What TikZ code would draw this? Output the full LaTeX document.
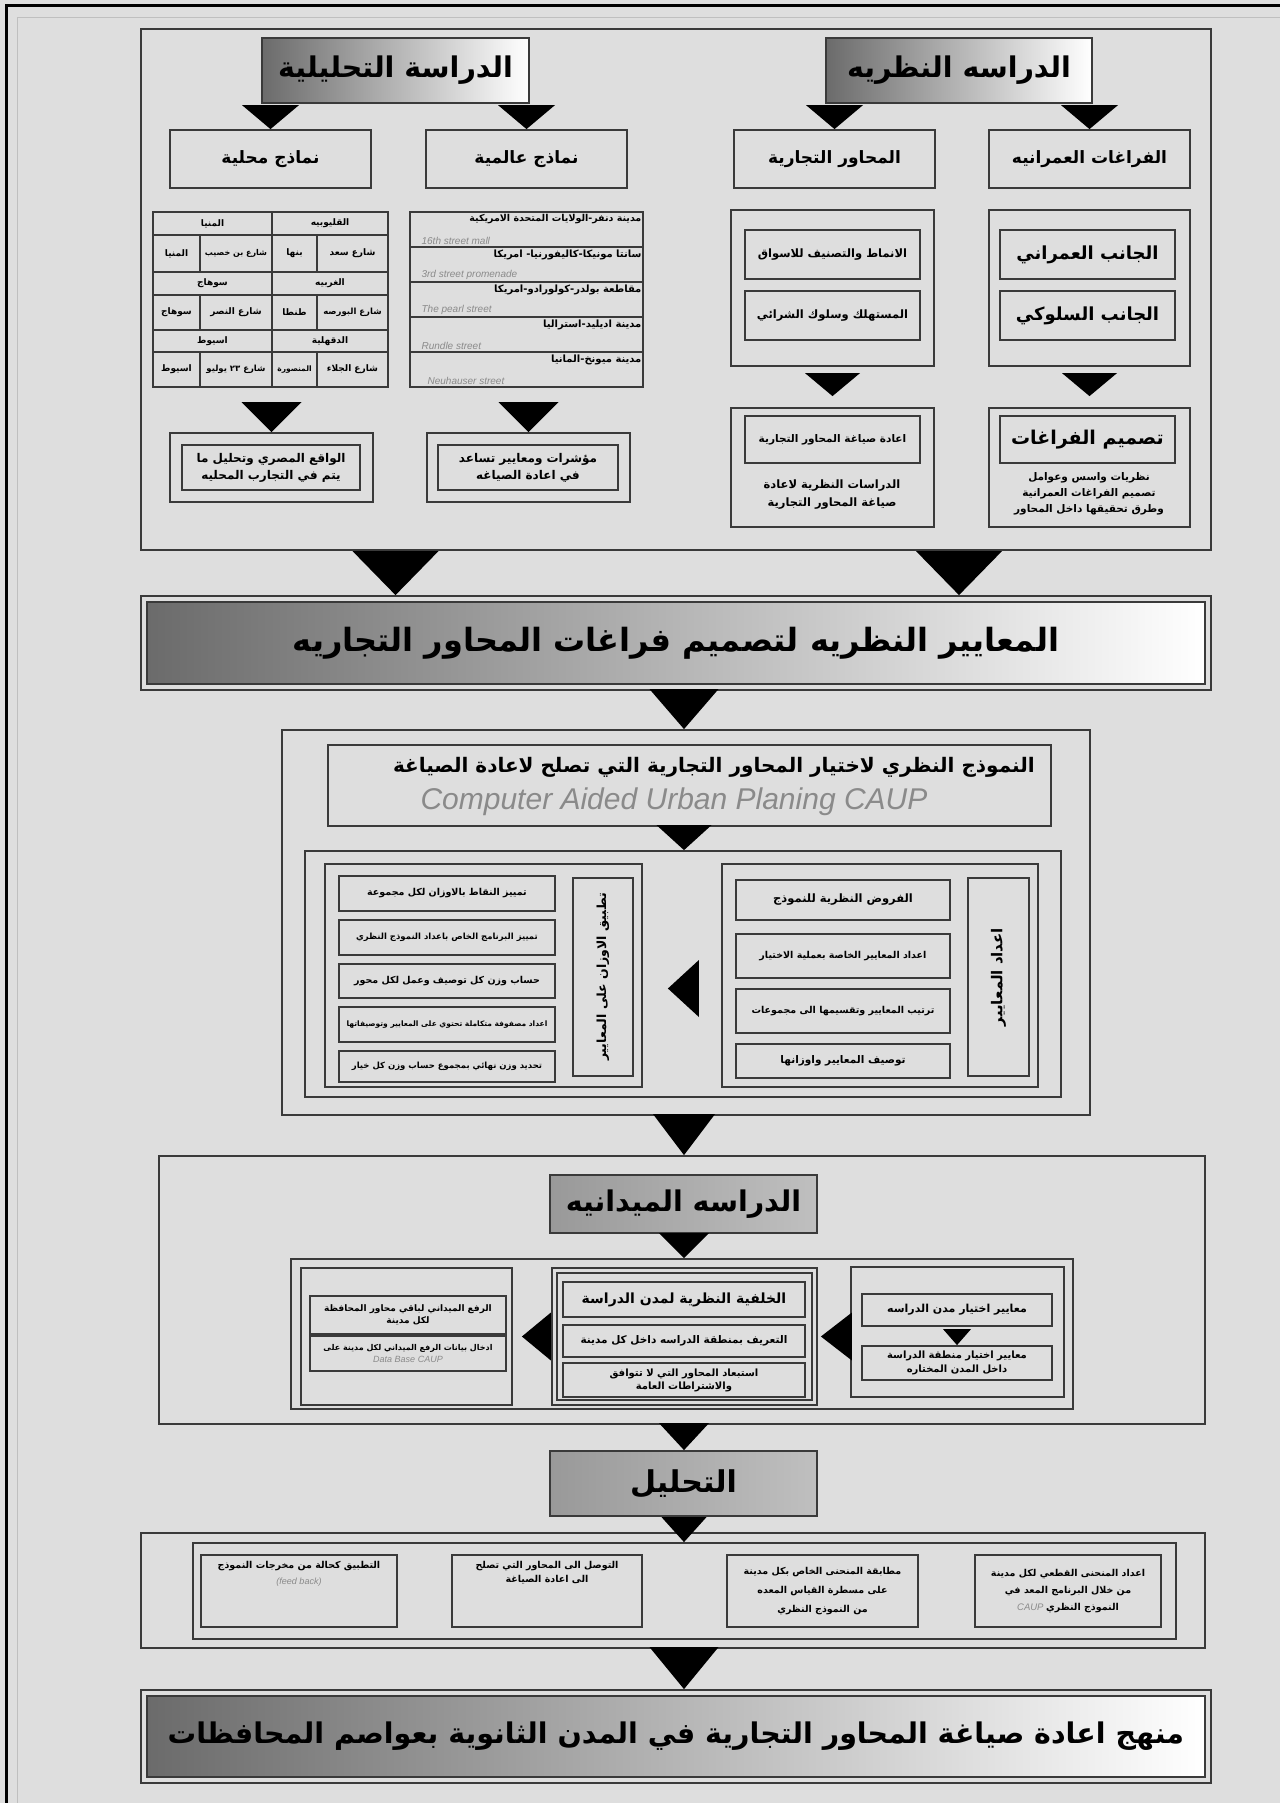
\documentclass[tikz,border=0pt]{standalone}
\usepackage{fontspec}
\usetikzlibrary{calc}
\setmainfont{Liberation Sans}
\TeXXeTstate=1
\newfontfamily\arfont[Script=Arabic]{DejaVu Sans Bold}
\newcommand{\AR}[1]{{\arfont\beginR #1\endR}}
\newcommand{\fsz}[2]{\fontsize{#1}{#2}\selectfont}
\definecolor{bg}{HTML}{DEDEDE}
\definecolor{bord}{HTML}{3A3A3A}
\definecolor{grd}{HTML}{6B6B6B}
\definecolor{engc}{HTML}{8A8A8A}
% style, name, x1, y1, x2, y2, text
\newcommand{\rbox}[7]{\node[#1,minimum width={#5-#3},minimum height={#6-#4}] (#2) at ({(#3+#5)/2},{(#4+#6)/2}) {#7};}
% apex, width, height (pointing down)
\newcommand{\dtri}[3]{\fill[black] (#1) -- ++({-(#2)/2},{-(#3)}) -- ++({#2},0) -- cycle;}
% apex, height, width (pointing left)
\newcommand{\ltri}[3]{\fill[black] (#1) -- ++({#3},{-(#2)/2}) -- ++(0,{#2}) -- cycle;}
\tikzset{
  bx/.style={draw=bord,line width=1.8pt,inner sep=1pt,fill=bg,align=center},
  tb/.style={draw=bord,line width=1.2pt,inner sep=0pt,fill=bg,align=center,font=\fsz{9}{11}},
  lbl/.style={inner sep=0pt,align=center},
  eng/.style={inner sep=0pt,text=engc,font=\itshape\fsz{10}{12}},
  hdr/.style={bx,left color=grd,right color=white},
  ghdr/.style={bx,left color=black!40,right color=black!25},
}
\begin{document}
\begin{tikzpicture}[x=1pt,y=-1pt]
\fill[bg] (0,0) rectangle (1280,1803);
\useasboundingbox (0,0) rectangle (1280,1803);
\draw[line width=3pt] (6,1803) -- (6,6) -- (1280,6);
\draw[black!25,line width=0.8pt] (17,1803) -- (17,17) -- (1280,17);
\coordinate (cx) at (684,0);

% ===== top section =====
\rbox{bx}{top}{141}{29}{1211}{550}{}
\rbox{hdr,font=\fsz{28.5}{34}}{hdrA}{262}{38}{529}{103}{\AR{الدراسة التحليلية}}
\rbox{hdr,font=\fsz{28.5}{34}}{hdrB}{826}{38}{1092}{103}{\AR{الدراسه النظريه}}
\rbox{bx,font=\fsz{17}{22}}{locm}{170}{130}{371}{188}{\AR{نماذج محلية}}
\rbox{bx,font=\fsz{17}{22}}{globm}{426}{130}{627}{188}{\AR{نماذج عالمية}}
\rbox{bx,font=\fsz{17}{22}}{axes}{734}{130}{935}{188}{\AR{المحاور التجارية}}
\rbox{bx,font=\fsz{17}{22}}{spcH}{989}{130}{1190}{188}{\AR{الفراغات العمرانيه}}
\dtri{locm.north}{57}{24}
\dtri{globm.north}{57}{24}
\dtri{axes.north}{57}{24}
\dtri{spcH.north}{57}{24}

% local models table
\rbox{tb}{t1r}{272}{212}{388}{235}{\AR{القليوبيه}}
\rbox{tb}{t1l}{153}{212}{272}{235}{\AR{المنيا}}
\rbox{tb}{t2a}{317}{235}{388}{272}{\AR{شارع سعد}}
\rbox{tb}{t2b}{272}{235}{317}{272}{\AR{بنها}}
\rbox{tb,font=\fsz{8}{10}}{t2c}{200}{235}{272}{272}{\AR{شارع بن خصيب}}
\rbox{tb}{t2d}{153}{235}{200}{272}{\AR{المنيا}}
\rbox{tb}{t3r}{272}{272}{388}{295}{\AR{الغربيه}}
\rbox{tb}{t3l}{153}{272}{272}{295}{\AR{سوهاج}}
\rbox{tb,font=\fsz{8.5}{10}}{t4a}{317}{295}{388}{330}{\AR{شارع البورصه}}
\rbox{tb}{t4b}{272}{295}{317}{330}{\AR{طنطا}}
\rbox{tb}{t4c}{200}{295}{272}{330}{\AR{شارع النصر}}
\rbox{tb}{t4d}{153}{295}{200}{330}{\AR{سوهاج}}
\rbox{tb}{t5r}{272}{330}{388}{352}{\AR{الدقهلية}}
\rbox{tb}{t5l}{153}{330}{272}{352}{\AR{اسيوط}}
\rbox{tb}{t6a}{317}{352}{388}{387}{\AR{شارع الجلاء}}
\rbox{tb,font=\fsz{7.5}{10}}{t6b}{272}{352}{317}{387}{\AR{المنصورة}}
\rbox{tb,font=\fsz{8.5}{10}}{t6c}{200}{352}{272}{387}{\AR{شارع ٢٣ يوليو}}
\rbox{tb}{t6d}{153}{352}{200}{387}{\AR{اسيوط}}

% global models list
\rbox{tb}{g1}{410}{212}{643}{247}{}
\rbox{tb}{g2}{410}{247}{643}{282}{}
\rbox{tb}{g3}{410}{282}{643}{317}{}
\rbox{tb}{g4}{410}{317}{643}{352}{}
\rbox{tb}{g5}{410}{352}{643}{387}{}
\node[lbl,anchor=north east,font=\fsz{9.5}{12}] (g1a) at ($(g1.north east)+(-2,3)$) {\AR{مدينة دنفر-الولايات المتحدة الامريكية}};
\node[eng,anchor=south west] (g1e) at ($(g1.south west)+(12,-3)$) {16th street mall};
\node[lbl,anchor=north east,font=\fsz{10}{12}] (g2a) at ($(g2.north east)+(-2,3)$) {\AR{سانتا مونيكا-كاليفورنيا- امريكا}};
\node[eng,anchor=south west] (g2e) at ($(g2.south west)+(12,-3)$) {3rd street promenade};
\node[lbl,anchor=north east,font=\fsz{10}{12}] (g3a) at ($(g3.north east)+(-2,3)$) {\AR{مقاطعة بولدر-كولورادو-امريكا}};
\node[eng,anchor=south west] (g3e) at ($(g3.south west)+(12,-3)$) {The pearl street};
\node[lbl,anchor=north east,font=\fsz{10}{12}] (g4a) at ($(g4.north east)+(-2,3)$) {\AR{مدينة اديليد-استراليا}};
\node[eng,anchor=south west] (g4e) at ($(g4.south west)+(12,-3)$) {Rundle street};
\node[lbl,anchor=north east,font=\fsz{10}{12}] (g5a) at ($(g5.north east)+(-2,3)$) {\AR{مدينة ميونخ-المانيا}};
\node[eng,anchor=south west] (g5e) at ($(g5.south west)+(18,-3)$) {Neuhauser street};

% result boxes left
\rbox{bx}{locres}{170}{433}{373}{502}{}
\rbox{bx,line width=1.2pt,font=\fsz{12}{17}}{locresi}{182}{445}{360}{490}{\AR{الواقع المصري وتحليل ما}\\\AR{يتم في التجارب المحليه}}
\rbox{bx}{globres}{427}{433}{630}{502}{}
\rbox{bx,line width=1.2pt,font=\fsz{12}{17}}{globresi}{438}{445}{618}{490}{\AR{مؤشرات ومعايير تساعد}\\\AR{في اعادة الصياغه}}
\dtri{locres.north}{60}{30}
\dtri{globres.north}{60}{30}

% right side
\rbox{bx}{axb}{731}{210}{934}{366}{}
\rbox{bx,font=\fsz{11.5}{14}}{axb1}{745}{230}{920}{279}{\AR{الانماط والتصنيف للاسواق}}
\rbox{bx,font=\fsz{11.5}{14}}{axb2}{745}{291}{920}{340}{\AR{المستهلك وسلوك الشرائي}}
\rbox{bx}{spb}{989}{210}{1190}{366}{}
\rbox{bx,font=\fsz{18}{22}}{spb1}{1000}{230}{1175}{279}{\AR{الجانب العمراني}}
\rbox{bx,font=\fsz{18}{22}}{spb2}{1000}{291}{1175}{340}{\AR{الجانب السلوكي}}
\rbox{bx}{axc}{731}{408}{934}{527}{}
\rbox{bx,font=\fsz{10.5}{14}}{axc1}{745}{416}{920}{463}{\AR{اعادة صياغة المحاور التجارية}}
\node[lbl,font=\fsz{11.5}{18}] (axc2) at (832,495) {\AR{الدراسات النظرية لاعادة}\\\AR{صياغة المحاور التجارية}};
\rbox{bx}{spcc}{989}{408}{1190}{527}{}
\rbox{bx,font=\fsz{19}{24}}{spcc1}{1000}{416}{1175}{463}{\AR{تصميم الفراغات}}
\node[lbl,font=\fsz{10.5}{16}] (spcc2) at (1089,494) {\AR{نظريات واسس وعوامل}\\\AR{تصميم الفراغات العمرانية}\\\AR{وطرق تحقيقها داخل المحاور}};
\dtri{$(axc.north)+(0,-11)$}{55}{23}
\dtri{$(spcc.north)+(0,-11)$}{55}{23}

% ===== banner 1 =====
\rbox{bx}{ban1}{141}{596}{1211}{690}{}
\rbox{hdr,line width=1.2pt,font=\fsz{32}{38}}{ban1i}{147}{602}{1205}{684}{\AR{المعايير النظريه لتصميم فراغات المحاور التجاريه}}
\dtri{hdrA.south |- ban1.north}{86}{44}
\dtri{hdrB.south |- ban1.north}{86}{44}

% ===== model section =====
\rbox{bx}{mid}{282}{730}{1090}{1115}{}
\dtri{cx |- mid.north}{69}{40}
\rbox{bx}{caup}{328}{745}{1051}{826}{}
\node[lbl,anchor=east,font=\fsz{20}{24}] (caupa) at (1035,767) {\AR{النموذج النظري لاختيار المحاور التجارية التي تصلح لاعادة الصياغة}};
\node[eng,font=\itshape\fsz{30}{34}] (caupe) at (674,802) {Computer Aided Urban Planing CAUP};
\rbox{bx}{inb}{305}{851}{1061}{1097}{}
\dtri{cx |- inb.north}{55}{25}

\rbox{bx}{rg}{722}{864}{1038}{1087}{}
\rbox{bx}{rgv}{968}{878}{1029}{1076}{}
\node[lbl,rotate=90,font=\fsz{15}{18}] (rgvt) at (rgv) {\AR{اعداد المعايير}};
\rbox{bx,font=\fsz{11.5}{14}}{rg1}{736}{880}{950}{920}{\AR{الفروض النظرية للنموذج}}
\rbox{bx,font=\fsz{9.5}{13}}{rg2}{736}{934}{950}{978}{\AR{اعداد المعايير الخاصة بعملية الاختيار}}
\rbox{bx,font=\fsz{9.5}{13}}{rg3}{736}{989}{950}{1033}{\AR{ترتيب المعايير وتقسيمها الى مجموعات}}
\rbox{bx,font=\fsz{10.5}{13}}{rg4}{736}{1044}{950}{1078}{\AR{توصيف المعايير واوزانها}}

\rbox{bx}{lg}{325}{864}{642}{1087}{}
\ltri{$(lg.east)+(25,13)$}{57}{31}
\rbox{bx}{lgv}{573}{878}{633}{1076}{}
\node[lbl,rotate=90,font=\fsz{12.5}{16}] (lgvt) at (lgv) {\AR{تطبيق الاوزان على المعايير}};
\rbox{bx,font=\fsz{9.5}{12}}{lg1}{339}{876}{555}{911}{\AR{تمييز النقاط بالاوزان لكل مجموعة}}
\rbox{bx,font=\fsz{8.5}{11}}{lg2}{339}{920}{555}{955}{\AR{تمييز البرنامج الخاص باعداد النموذج النظري}}
\rbox{bx,font=\fsz{9.5}{12}}{lg3}{339}{964}{555}{998}{\AR{حساب وزن كل توصيف وعمل لكل محور}}
\rbox{bx,font=\fsz{7.5}{10}}{lg4}{339}{1007}{555}{1042}{\AR{اعداد مصفوفة متكاملة تحتوي على المعايير وتوصيفاتها}}
\rbox{bx,font=\fsz{8.5}{11}}{lg5}{339}{1051}{555}{1082}{\AR{تحديد وزن نهائي بمجموع حساب وزن كل خيار}}

% ===== field study =====
\rbox{bx}{fld}{159}{1156}{1205}{1424}{}
\dtri{cx |- fld.north}{62}{41}
\rbox{ghdr,font=\fsz{28.5}{34}}{fh}{550}{1175}{817}{1233}{\AR{الدراسه الميدانيه}}
\rbox{bx}{fin}{291}{1259}{1073}{1409}{}
\dtri{cx |- fin.north}{50}{25}

\rbox{bx}{frg}{851}{1267}{1064}{1397}{}
\rbox{bx,font=\fsz{11}{14}}{frg1}{862}{1294}{1052}{1326}{\AR{معايير اختيار مدن الدراسه}}
\rbox{bx,font=\fsz{10}{14}}{frg2}{862}{1346}{1052}{1380}{\AR{معايير اختيار منطقة الدراسة}\\\AR{داخل المدن المختاره}}
\dtri{frg2.north}{28}{16}

\rbox{bx}{fmg}{552}{1268}{817}{1405}{}
\rbox{bx,line width=1.2pt}{fmgi}{557}{1273}{812}{1400}{}
\rbox{bx,font=\fsz{14}{16}}{fmg1}{563}{1282}{805}{1317}{\AR{الخلفية النظرية لمدن الدراسة}}
\rbox{bx,font=\fsz{10.5}{13}}{fmg2}{563}{1325}{805}{1357}{\AR{التعريف بمنطقة الدراسه داخل كل مدينة}}
\rbox{bx,font=\fsz{10}{13}}{fmg3}{563}{1363}{805}{1397}{\AR{استبعاد المحاور التي لا تتوافق}\\\AR{والاشتراطات العامة}}
\ltri{$(fmg.east)+(3,0)$}{48}{31}

\rbox{bx}{flg}{301}{1268}{512}{1405}{}
\rbox{bx,font=\fsz{9}{12}}{flg1}{310}{1296}{506}{1334}{\AR{الرفع الميداني لباقي محاور المحافظة}\\\AR{لكل مدينة}}
\rbox{bx,font=\fsz{8}{12}}{flg2}{310}{1336}{506}{1371}{\AR{ادخال بيانات الرفع الميداني لكل مدينة على}\\{\color{engc}\itshape\fsz{9}{12}Data Base CAUP}}
\ltri{$(flg.east)+(9,0)$}{48}{29}

% ===== analysis =====
\rbox{ghdr,font=\fsz{30}{36}}{ana}{550}{1451}{817}{1516}{\AR{التحليل}}
\dtri{cx |- ana.north}{50}{27}
\rbox{bx}{asec}{141}{1533}{1205}{1648}{}
\rbox{bx}{asecin}{193}{1543}{1176}{1639}{}
\dtri{cx |- asecin.north}{45}{25}
\rbox{bx,font=\fsz{9.5}{17}}{a1}{975}{1555}{1161}{1627}{\AR{اعداد المنحنى القطعي لكل مدينة}\\\AR{من خلال البرنامج المعد في}\\{\color{engc}\itshape CAUP}\ \AR{النموذج النظري}}
\rbox{bx,font=\fsz{9.5}{19}}{a2}{727}{1555}{918}{1627}{\AR{مطابقة المنحنى الخاص بكل مدينة}\\\AR{على مسطرة القياس المعده}\\\AR{من النموذج النظري}}
\rbox{bx}{a3}{452}{1555}{642}{1627}{}
\node[lbl,anchor=north,font=\fsz{9.5}{14}] (a3t) at ($(a3.north)+(0,7)$) {\AR{التوصل الى المحاور التي تصلح}\\\AR{الى اعادة الصياغة}};
\rbox{bx}{a4}{201}{1555}{397}{1627}{}
\node[lbl,anchor=north,font=\fsz{9.5}{16}] (a4t) at ($(a4.north)+(0,7)$) {\AR{التطبيق كحالة من مخرجات النموذج}\\{\color{engc}\itshape\fsz{9}{12}(feed back)}};

% ===== final banner =====
\rbox{bx}{fb}{141}{1690}{1211}{1783}{}
\rbox{hdr,line width=1.2pt,font=\fsz{28.5}{36}}{fbi}{147}{1696}{1205}{1777}{\AR{منهج اعادة صياغة المحاور التجارية في المدن الثانوية بعواصم المحافظات}}
\dtri{cx |- fb.north}{69}{42}
\end{tikzpicture}
\end{document}
